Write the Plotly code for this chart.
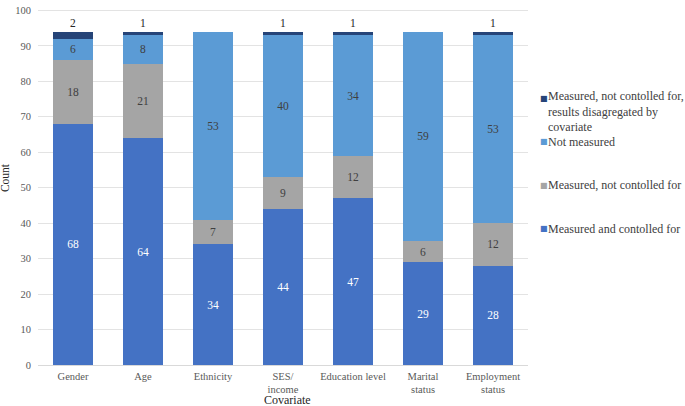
import plotly.graph_objects as go

categories = ["Gender", "Age", "Ethnicity", "SES/<br>income", "Education level",
              "Marital<br>status", "Employment<br>status"]
series_names = [
    "Measured and contolled for",
    "Measured, not contolled for",
    "Not measured",
    "Measured, not contolled for,<br>results disagregated by<br>covariate",
]
measured_controlled = [68, 64, 34, 44, 47, 29, 28]
measured_not_controlled = [18, 21, 7, 9, 12, 6, 12]
not_measured = [6, 8, 53, 40, 34, 59, 53]
measured_disaggregated = [2, 1, 0, 1, 1, 0, 1]
y_ticks = list(range(0, 101, 10))

colors = ["#4472C4", "#A5A5A5", "#5B9BD5", "#264478"]
text_colors = ["#FFFFFF", "#404040", "#404040", "#262626"]
series_values = [measured_controlled, measured_not_controlled, not_measured, measured_disaggregated]

FONT = "'Liberation Serif', 'Times New Roman', serif"

fig = go.Figure()
for i, (name, vals) in enumerate(zip(series_names, series_values)):
    last = i == len(series_values) - 1
    fig.add_trace(go.Bar(
        x=categories, y=vals, name=name,
        marker=dict(color=colors[i], line=dict(width=0)),
        text=[str(v) if v > 0 else "" for v in vals],
        textposition="outside" if last else "inside",
        insidetextanchor="middle",
        textangle=0,
        constraintext="none",
        cliponaxis=False,
        textfont=dict(family=FONT, size=11.5, color=text_colors[i]),
        outsidetextfont=dict(family=FONT, size=11.5, color=text_colors[i]),
        showlegend=False,
    ))

# plot area geometry (pixels) used for placing the custom legend
L, R, T, B = 38, 157, 5, 41
W, H = 685, 406
pw, ph = W - L - R, H - T - B

def px_x(x):
    return (x - L) / pw

def px_y(y):
    return (H - B - y) / ph

legend_rows = [(3, 96, 109), (2, 139, 139), (1, 183, 183), (0, 227, 227)]
annotations = []
for idx, ysq, ytxt in legend_rows:
    annotations.append(dict(
        xref="paper", yref="paper", x=px_x(538), y=px_y(ysq),
        xanchor="left", yanchor="middle", showarrow=False,
        text="■", font=dict(family="DejaVu Sans", size=8, color=colors[idx]),
    ))
    annotations.append(dict(
        xref="paper", yref="paper", x=px_x(546), y=px_y(ytxt),
        xanchor="left", yanchor="middle", align="left", showarrow=False,
        text=series_names[idx], font=dict(family=FONT, size=12, color="#404040"),
    ))

annotations.append(dict(
    xref="paper", yref="paper", x=px_x(287), y=px_y(408),
    xanchor="center", yanchor="bottom", showarrow=False, borderpad=0,
    text="Covariate", font=dict(family=FONT, size=12, color="#262626"),
))
annotations.append(dict(
    xref="paper", yref="paper", x=px_x(5), y=px_y(176),
    xanchor="center", yanchor="middle", showarrow=False, textangle=-90,
    text="Count", font=dict(family=FONT, size=11.5, color="#262626"),
))

fig.update_layout(
    barmode="stack",
    bargap=0.44,
    width=W, height=H,
    margin=dict(l=L, r=R, t=T, b=B, pad=0),
    plot_bgcolor="white", paper_bgcolor="white",
    font=dict(family=FONT, size=10.5, color="#595959"),
    showlegend=False,
    annotations=annotations,
    xaxis=dict(
        showgrid=False, showline=True, linecolor="#D9D9D9", linewidth=1,
        ticks="", ticklabelstandoff=1,
        tickfont=dict(family=FONT, size=10.5, color="#595959"),
        fixedrange=True,
    ),
    yaxis=dict(
        range=[0, 100.4], tickvals=y_ticks, showgrid=True, gridcolor="#E3E3E3",
        gridwidth=1, zeroline=False, showline=False, ticks="",
        ticklabelstandoff=6,
        tickfont=dict(family=FONT, size=10.5, color="#595959"),
    ),
)

fig.write_html("out.html", config={"displayModeBar": False},
               post_script="document.body.style.margin='0';")
